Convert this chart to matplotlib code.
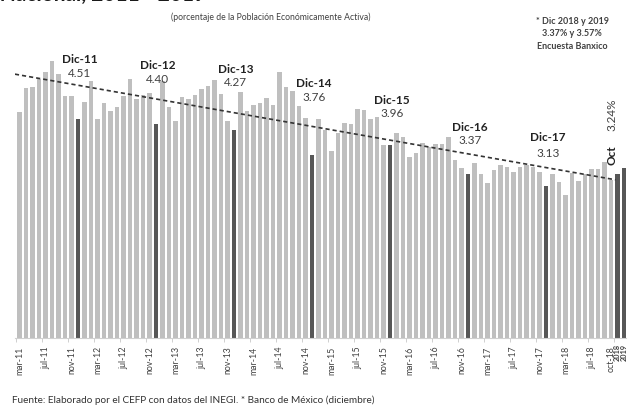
import matplotlib
matplotlib.use("Agg")
import matplotlib.pyplot as plt
import numpy as np

plt.rcParams['font.family'] = ['Lato', 'DejaVu Sans']

# tasa de desocupacion mensual, mar-11 ... oct-18
valores = [4.64, 5.14, 5.16, 5.33, 5.47, 5.70, 5.43, 4.98, 4.97, 4.51,
           4.86, 5.29, 4.51, 4.84, 4.66, 4.75, 4.98, 5.32, 4.91, 5.00,
           5.03, 4.40, 5.29, 4.75, 4.47, 4.96, 4.92, 5.00, 5.13, 5.19,
           5.30, 5.01, 4.47, 4.27, 5.05, 4.66, 4.79, 4.84, 4.94, 4.79,
           5.47, 5.17, 5.09, 4.77, 4.52, 3.76, 4.51, 4.28, 3.85, 4.22,
           4.43, 4.40, 4.71, 4.68, 4.50, 4.55, 3.96, 3.96, 4.22, 4.14,
           3.72, 3.80, 4.02, 3.92, 4.00, 3.99, 4.13, 3.67, 3.50, 3.37,
           3.59, 3.37, 3.18, 3.46, 3.56, 3.51, 3.41, 3.51, 3.56, 3.51,
           3.41, 3.13, 3.37, 3.20, 2.94, 3.39, 3.22, 3.38, 3.48, 3.48,
           3.61, 3.24]
# encuesta Banxico (diciembre)
banxico = [3.37, 3.49]
anios_banxico = ['2018', '2019']

meses = ['ene', 'feb', 'mar', 'abr', 'may', 'jun', 'jul', 'ago', 'sep', 'oct', 'nov', 'dic']
etiquetas_mes = []
for i in range(len(valores)):
    m = (i + 2) % 12
    a = 11 + (i + 2) // 12
    etiquetas_mes.append('%s-%d' % (meses[m], a))

diciembres = ['Dic-11', 'Dic-12', 'Dic-13', 'Dic-14', 'Dic-15', 'Dic-16', 'Dic-17']
dic_valores = ['4.51', '4.40', '4.27', '3.76', '3.96', '3.37', '3.13']
dic_altura = [5.72, 5.60, 5.53, 5.24, 4.88, 4.33, 4.12]
dic_sep = [0.29, 0.28, 0.28, 0.30, 0.27, 0.26, 0.33]

tendencia = [5.41, 3.27]   # inicio (mar-11) y fin (oct-18)

gris = '#bfbfbf'
oscuro = '#575757'

fig = plt.figure(figsize=(6.33, 4.08), dpi=100)
ax = fig.add_axes([15 / 633, 70 / 408, 611 / 633, 282 / 408])

todos = valores + banxico
x = np.arange(len(todos))
colores = []
for i, e in enumerate(etiquetas_mes):
    colores.append(oscuro if e.startswith('dic') else gris)
colores += [oscuro, oscuro]
ax.bar(x, todos, width=0.66, color=colores, linewidth=0)

# linea de tendencia
n = len(valores) - 1
pend = (tendencia[1] - tendencia[0]) / n
xt = np.array([-0.7, n + 0.7])
ax.plot(xt, tendencia[0] + pend * xt, color='#333333', lw=1.2, ls=(0, (2.5, 1.8)))

# etiquetas de diciembre
idx_dic = [i for i, e in enumerate(etiquetas_mes) if e.startswith('dic')]
for k, i in enumerate(idx_dic):
    ax.text(i + 0.3, dic_altura[k], diciembres[k], ha='center', va='center',
            fontsize=8.5, fontweight='bold', color='#222222')
    ax.text(i + 0.3, dic_altura[k] - dic_sep[k], dic_valores[k], ha='center', va='center',
            fontsize=8.5, color='#404040')

ax.text(n + 0.2, 3.77, 'Oct', rotation=90, ha='center', va='center',
        fontsize=8.5, fontweight='bold', color='#222222')
ax.text(n + 0.2, 4.59, '%.2f%%' % valores[-1], rotation=90, ha='center', va='center',
        fontsize=8.5, color='#404040')

ax.set_xlim(-0.69, 93.3)
ax.set_ylim(0, 5.8)
for s in ['top', 'right', 'left']:
    ax.spines[s].set_visible(False)
ax.spines['bottom'].set_color('#d0d0d0')
ax.set_yticks([])

pos = list(range(0, 89, 4)) + [n]
ax.set_xticks(pos)
ax.set_xticklabels([etiquetas_mes[p] for p in pos], rotation=90, fontsize=6.3, color='#404040')
ax.tick_params(axis='x', length=0, pad=6)
ax.set_xticks(np.arange(-0.5, 92, 4), minor=True)
ax.tick_params(axis='x', which='minor', length=3, color='#c8c8c8')

for j, a in enumerate(anios_banxico):
    ax.text(n + 1 + j, -0.12, a, rotation=90, ha='center', va='top',
            fontsize=5.3, fontweight='bold', color='#404040')

fig.text(206 / 633, 1 - 1 / 408, 'Tasa de Desocupación Nacional, 2011 - 2019', ha='right',
         va='baseline', fontsize=15, fontweight='bold', color='#1a1a1a')
fig.text(271 / 633, 1 - 17 / 408, '(porcentaje de la Población Económicamente Activa)',
         ha='center', va='center', fontsize=6.2, color='#404040')
fig.text(572 / 633, 1 - 34 / 408, '* Dic 2018 y 2019\n3.37% y 3.57%\nEncuesta Banxico',
         ha='center', va='center', fontsize=6.5, color='#404040', fontweight='bold',
         linespacing=1.45)
fig.text(12 / 633, 8 / 408, 'Fuente: Elaborado por el CEFP con datos del INEGI. * Banco de México (diciembre)',
         ha='left', va='center', fontsize=7.2, color='#333333')

fig.savefig('out.png', dpi=100)
